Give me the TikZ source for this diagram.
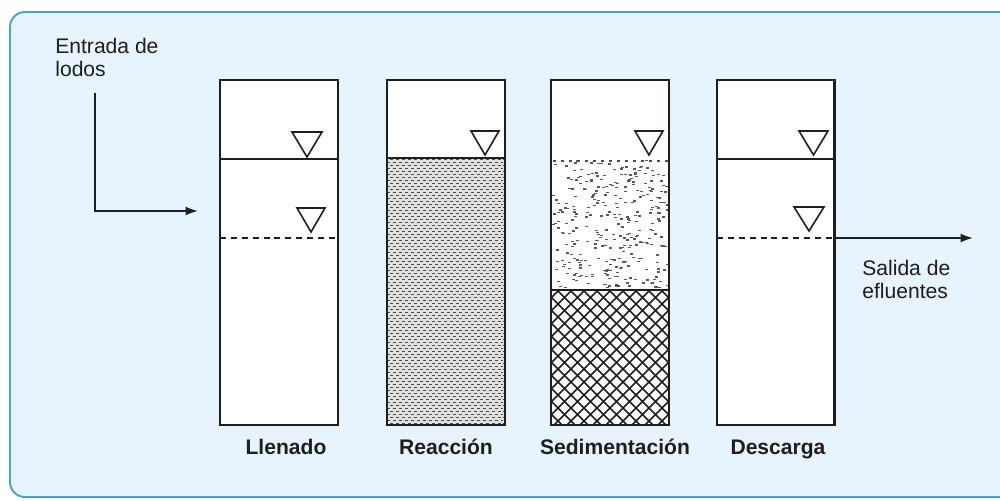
\documentclass[tikz,border=0pt]{standalone}
\usepackage{fontspec}
\setmainfont{Liberation Sans}
\usetikzlibrary{arrows.meta}
\definecolor{bgblue}{HTML}{E8F4FD}
\definecolor{frameblue}{HTML}{4AA3C9}
\definecolor{ink}{HTML}{1E1E1E}
\begin{document}
\begin{tikzpicture}[x=0.02cm,y=-0.02cm,
  tank/.style={draw=ink,line width=1.15pt,fill=none,inner sep=0pt,outer sep=0pt,
    minimum width=2.36cm,minimum height=6.9cm},
  lab/.style={font=\fontsize{12}{14}\selectfont\bfseries,text=ink,inner sep=0pt,anchor=base},
  note/.style={font=\fontsize{12}{13}\selectfont,text=ink,inner sep=0pt,align=left},
  level/.style={draw=ink,line width=0.9pt},
  dlevel/.style={draw=ink,line width=0.9pt,dash pattern=on 3.4pt off 2.8pt},
  tri/.style={draw=ink,line width=0.9pt,line join=miter,fill=white},
  flow/.style={draw=ink,line width=0.9pt,-{Latex[length=7pt,width=5pt]}}]
\useasboundingbox (0,0) rectangle (1000,500);
\fill[white] (0,0) rectangle (1000,500);
\draw[draw=frameblue,fill=bgblue,line width=1.1pt,rounded corners=0.3cm] (10,12) rectangle (1020,497);
% tank interiors
\foreach \cx in {279,446,610,775.5}{
  \fill[white] (\cx-59,80) rectangle (\cx+59,425);
}
% Reaccion texture
\begin{scope}
\clip (387,158) rectangle (505,425);
\fill[black!12] (387,158) rectangle (505,425);
\foreach \r [count=\k] in {159.5,162.5,...,425}{
  \pgfmathsetmacro\ph{mod(\k,2)*1.7}
  \draw[black!70,line width=0.95pt,dash pattern=on 1.7pt off 1.7pt,dash phase=\ph pt] (387,\r) -- (505,\r);
}
\end{scope}
% Sedimentacion scattered flocs
\begin{scope}
\clip (551,158) rectangle (669,290);
\pgfmathsetseed{4217}
\foreach \i in {1,...,320}{
  \pgfmathsetmacro\xx{552+115*rnd}
  \pgfmathsetmacro\yy{160+128*rnd}
  \draw[black!65,line width=0.8pt] (\xx,\yy) -- ++(3,0);
}
\foreach \xx in {553,561,...,668}{
  \draw[black!70,line width=0.8pt] (\xx,161) -- ++(2.5,0);
}
\end{scope}
% Sedimentacion sludge crosshatch
\begin{scope}
\clip (551,290) rectangle (669,425);
\foreach \c in {-150,-137,...,160}{
  \draw[ink,line width=0.95pt] (551+\c,290) -- ++(140,140);
  \draw[ink,line width=0.95pt] (669-\c,290) -- ++(-140,140);
}
\end{scope}
% level lines
\draw[level] (220,159) -- (338,159);
\draw[level] (387,158) -- (505,158);
\draw[level] (551,290) -- (669,290);
\draw[level] (717,159) -- (834,159);
\draw[dlevel] (220,238) -- (338,238);
\draw[dlevel] (717,238) -- (834,238);
% triangles
\draw[tri] (292,132) -- (322,132) -- (307,157) -- cycle;
\draw[tri] (297,208) -- (325,208) -- (311,232) -- cycle;
\draw[tri] (471,131) -- (499,131) -- (485,155) -- cycle;
\draw[tri] (635,131) -- (663,131) -- (649,155) -- cycle;
\draw[tri] (799,131) -- (828,131) -- (813.5,155) -- cycle;
\draw[tri] (794,207) -- (824,207) -- (809,231) -- cycle;
% tanks
\node[tank] (t1) at (279,252.5) {};
\node[tank] (t2) at (446,252.5) {};
\node[tank] (t3) at (610,252.5) {};
\node[tank] (t4) at (775.5,252.5) {};
% labels
\node[lab] (l1) at (286,454) {Llenado};
\node[lab] (l2) at (446,454) {Reacción};
\node[lab] (l3) at (615,454) {Sedimentación};
\node[lab] (l4) at (778,454) {Descarga};
\node[note,anchor=north west] (in) at (55,38) {Entrada de\\lodos};
\node[note,anchor=north west] (out) at (862,260) {Salida de\\efluentes};
% flows
\coordinate (inTop) at (95,93);
\coordinate (inEnd) at (198,211);
\coordinate (outStart) at (834,238);
\coordinate (outEnd) at (973,238);
\draw[flow] (inTop) |- (inEnd);
\draw[flow] (outStart) -- (outEnd);
\end{tikzpicture}
\end{document}
